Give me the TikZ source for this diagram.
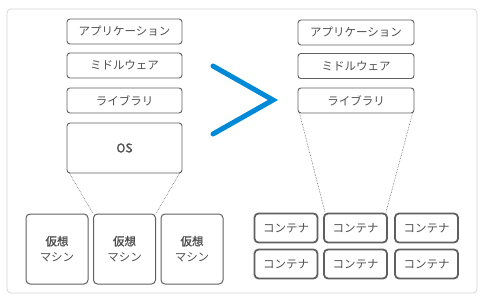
\documentclass[tikz,border=0pt]{standalone}
\usepackage{fontspec}
\newfontfamily\jp{Noto Sans CJK JP}
\newfontfamily\jpb{Noto Sans CJK JP}[FakeBold=1.5]
\definecolor{txt}{HTML}{505050}
\definecolor{bord}{HTML}{606060}
\definecolor{frame}{HTML}{D4D4D4}
\definecolor{chev}{RGB}{0,137,214}
\begin{document}
\begin{tikzpicture}[x=1pt,y=-1pt,
  layer/.style={draw=bord,line width=0.9pt,rounded corners=3pt,fill=white,text=txt,font=\jp\fontsize{11.5}{13}\selectfont},
  vm/.style={draw=bord,line width=1pt,rounded corners=4pt,text=txt,font=\jp\fontsize{11.5}{16}\selectfont,align=center},
  ctr/.style={draw=bord,line width=1.8pt,rounded corners=4pt,text=txt,font=\jp\fontsize{11.5}{13}\selectfont},
  dots/.style={densely dotted,draw=bord,line width=0.6pt}]
\useasboundingbox (0,0) rectangle (483,300);
\draw[frame,line width=0.8pt,rounded corners=4pt] (7,9) rectangle (477,293);
% left stack
\node[layer,minimum width=115,minimum height=25] (lapp) at (124.5,31.5) {アプリケーション};
\node[layer,minimum width=115,minimum height=25] (lmid) at (124.5,65.5) {ミドルウェア};
\node[layer,minimum width=115,minimum height=25] (llib) at (124.5,100.5) {ライブラリ};
\node[layer,minimum width=115,minimum height=50,font=\jpb\fontsize{12}{13}\selectfont] (os) at (124.5,148) {OS};
% VMs
\node[vm,minimum width=62,minimum height=70] (vm1) at (57,249) {{\jpb 仮想}\\マシン};
\node[vm,minimum width=62,minimum height=70] (vm2) at (124.5,249) {{\jpb 仮想}\\マシン};
\node[vm,minimum width=62,minimum height=70] (vm3) at (192,249) {{\jpb 仮想}\\マシン};
\draw[dots] ([xshift=3pt]os.south west) -- (vm2.north west);
\draw[dots] ([xshift=-3pt]os.south east) -- (vm2.north east);
% chevron
\coordinate (c1) at (213,66);
\coordinate (c2) at (273,100);
\coordinate (c3) at (213,134);
\draw[chev,line width=5pt,line cap=round,line join=miter] (c1) -- (c2) -- (c3);
% right stack
\node[layer,minimum width=116,minimum height=25] (rapp) at (356,32.5) {アプリケーション};
\node[layer,minimum width=116,minimum height=25] (rmid) at (356,66) {ミドルウェア};
\node[layer,minimum width=116,minimum height=25] (rlib) at (356,100.5) {ライブラリ};
% containers
\foreach \c/\x in {1/286,2/355.5,3/426.5}{
  \node[ctr,minimum width=63,minimum height=29] (ca\c) at (\x,228) {コンテナ};
  \node[ctr,minimum width=63,minimum height=29] (cb\c) at (\x,264) {コンテナ};
}
\draw[dots] ([xshift=2pt]rlib.south west) -- ([xshift=2pt]ca2.north west);
\draw[dots] ([xshift=-2pt]rlib.south east) -- ([xshift=-2pt]ca2.north east);
\end{tikzpicture}
\end{document}
